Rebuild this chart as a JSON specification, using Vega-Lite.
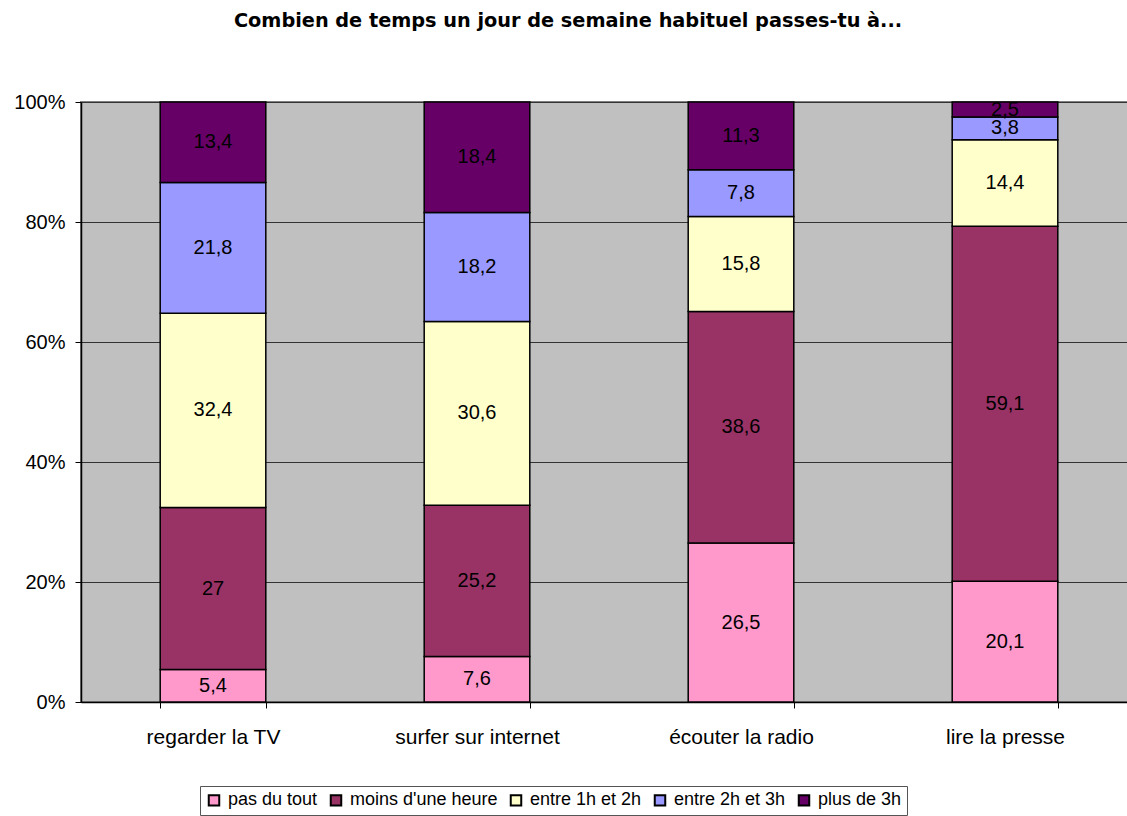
{
  "$schema": "https://vega.github.io/schema/vega-lite/v6.json",
  "width": 1056,
  "height": 600,
  "autosize": "none",
  "padding": {"left": 81, "top": 102, "right": 0, "bottom": 114},
  "background": "white",
  "title": {
    "text": "Combien de temps un jour de semaine habituel passes-tu à...",
    "font": "DejaVu Sans",
    "fontSize": 19.3,
    "fontWeight": "bold",
    "anchor": "middle",
    "dx": -41,
    "offset": 61,
    "color": "black"
  },
  "config": {
    "locale": {"number": {"decimal": ",", "thousands": " ", "grouping": [3], "currency": ["", " €"]}},
    "view": {"fill": "#C0C0C0", "stroke": "#808080", "strokeWidth": 2},
    "font": "Liberation Sans"
  },
  "data": {
    "values": [
      {"activite": "regarder la TV", "cat": "pas du tout", "ord": 1, "v": 5.4},
      {"activite": "regarder la TV", "cat": "moins d'une heure", "ord": 2, "v": 27},
      {"activite": "regarder la TV", "cat": "entre 1h et 2h", "ord": 3, "v": 32.4},
      {"activite": "regarder la TV", "cat": "entre 2h et 3h", "ord": 4, "v": 21.8},
      {"activite": "regarder la TV", "cat": "plus de 3h", "ord": 5, "v": 13.4},
      {"activite": "surfer sur internet", "cat": "pas du tout", "ord": 1, "v": 7.6},
      {"activite": "surfer sur internet", "cat": "moins d'une heure", "ord": 2, "v": 25.2},
      {"activite": "surfer sur internet", "cat": "entre 1h et 2h", "ord": 3, "v": 30.6},
      {"activite": "surfer sur internet", "cat": "entre 2h et 3h", "ord": 4, "v": 18.2},
      {"activite": "surfer sur internet", "cat": "plus de 3h", "ord": 5, "v": 18.4},
      {"activite": "écouter la radio", "cat": "pas du tout", "ord": 1, "v": 26.5},
      {"activite": "écouter la radio", "cat": "moins d'une heure", "ord": 2, "v": 38.6},
      {"activite": "écouter la radio", "cat": "entre 1h et 2h", "ord": 3, "v": 15.8},
      {"activite": "écouter la radio", "cat": "entre 2h et 3h", "ord": 4, "v": 7.8},
      {"activite": "écouter la radio", "cat": "plus de 3h", "ord": 5, "v": 11.3},
      {"activite": "lire la presse", "cat": "pas du tout", "ord": 1, "v": 20.1},
      {"activite": "lire la presse", "cat": "moins d'une heure", "ord": 2, "v": 59.1},
      {"activite": "lire la presse", "cat": "entre 1h et 2h", "ord": 3, "v": 14.4},
      {"activite": "lire la presse", "cat": "entre 2h et 3h", "ord": 4, "v": 3.8},
      {"activite": "lire la presse", "cat": "plus de 3h", "ord": 5, "v": 2.5}
    ]
  },
  "transform": [
    {"stack": "v", "groupby": ["activite"], "sort": [{"field": "ord"}], "offset": "normalize", "as": ["y0", "y1"]},
    {"calculate": "(datum.y0 + datum.y1) / 2", "as": "ymid"}
  ],
  "encoding": {
    "x": {
      "field": "activite",
      "type": "nominal",
      "sort": ["regarder la TV", "surfer sur internet", "écouter la radio", "lire la presse"],
      "scale": {"paddingInner": 0.6, "paddingOuter": 0.3},
      "axis": {
        "title": null,
        "labelAngle": 0,
        "labelFontSize": 21,
        "labelColor": "black",
        "labelPadding": 18,
        "tickBand": "extent",
        "tickColor": "black",
        "tickSize": 6,
        "domainColor": "black",
        "domainWidth": 1.5,
        "grid": false
      }
    }
  },
  "layer": [
    {
      "mark": {"type": "bar", "stroke": "black", "strokeWidth": 1.5},
      "encoding": {
        "y": {
          "field": "y0",
          "type": "quantitative",
          "scale": {"domain": [0, 1]},
          "axis": {
            "title": null,
            "format": ".0%",
            "values": [0, 0.2, 0.4, 0.6, 0.8, 1],
            "labelFontSize": 20,
            "labelColor": "black",
            "labelPadding": 10,
            "tickColor": "black",
            "tickSize": 6,
            "domainColor": "black",
            "domainWidth": 1.5,
            "gridColor": "#333333",
            "gridWidth": 1
          }
        },
        "y2": {"field": "y1"},
        "color": {
          "field": "cat",
          "type": "nominal",
          "sort": ["pas du tout", "moins d'une heure", "entre 1h et 2h", "entre 2h et 3h", "plus de 3h"],
          "scale": {
            "domain": ["pas du tout", "moins d'une heure", "entre 1h et 2h", "entre 2h et 3h", "plus de 3h"],
            "range": ["#FF99CC", "#993366", "#FFFFCC", "#9999FF", "#660066"]
          },
          "legend": {
            "title": null,
            "orient": "none",
            "legendX": 119,
            "legendY": 684,
            "direction": "horizontal",
            "columns": 5,
            "columnPadding": 8,
            "labelFontSize": 18,
            "labelLimit": 400,
            "labelColor": "black",
            "labelOffset": 5,
            "symbolType": "square",
            "symbolSize": 110,
            "symbolStrokeColor": "black",
            "symbolStrokeWidth": 2,
            "symbolOpacity": 1,
            "strokeColor": "#555555",
            "padding": 5
          }
        },
        "order": {"field": "ord", "type": "quantitative"}
      }
    },
    {
      "mark": {"type": "text", "fontSize": 20, "color": "black", "baseline": "middle", "align": "center"},
      "encoding": {
        "y": {"field": "ymid", "type": "quantitative", "scale": {"domain": [0, 1]}},
        "text": {"field": "v", "type": "quantitative", "format": ".1~f"}
      }
    }
  ]
}
